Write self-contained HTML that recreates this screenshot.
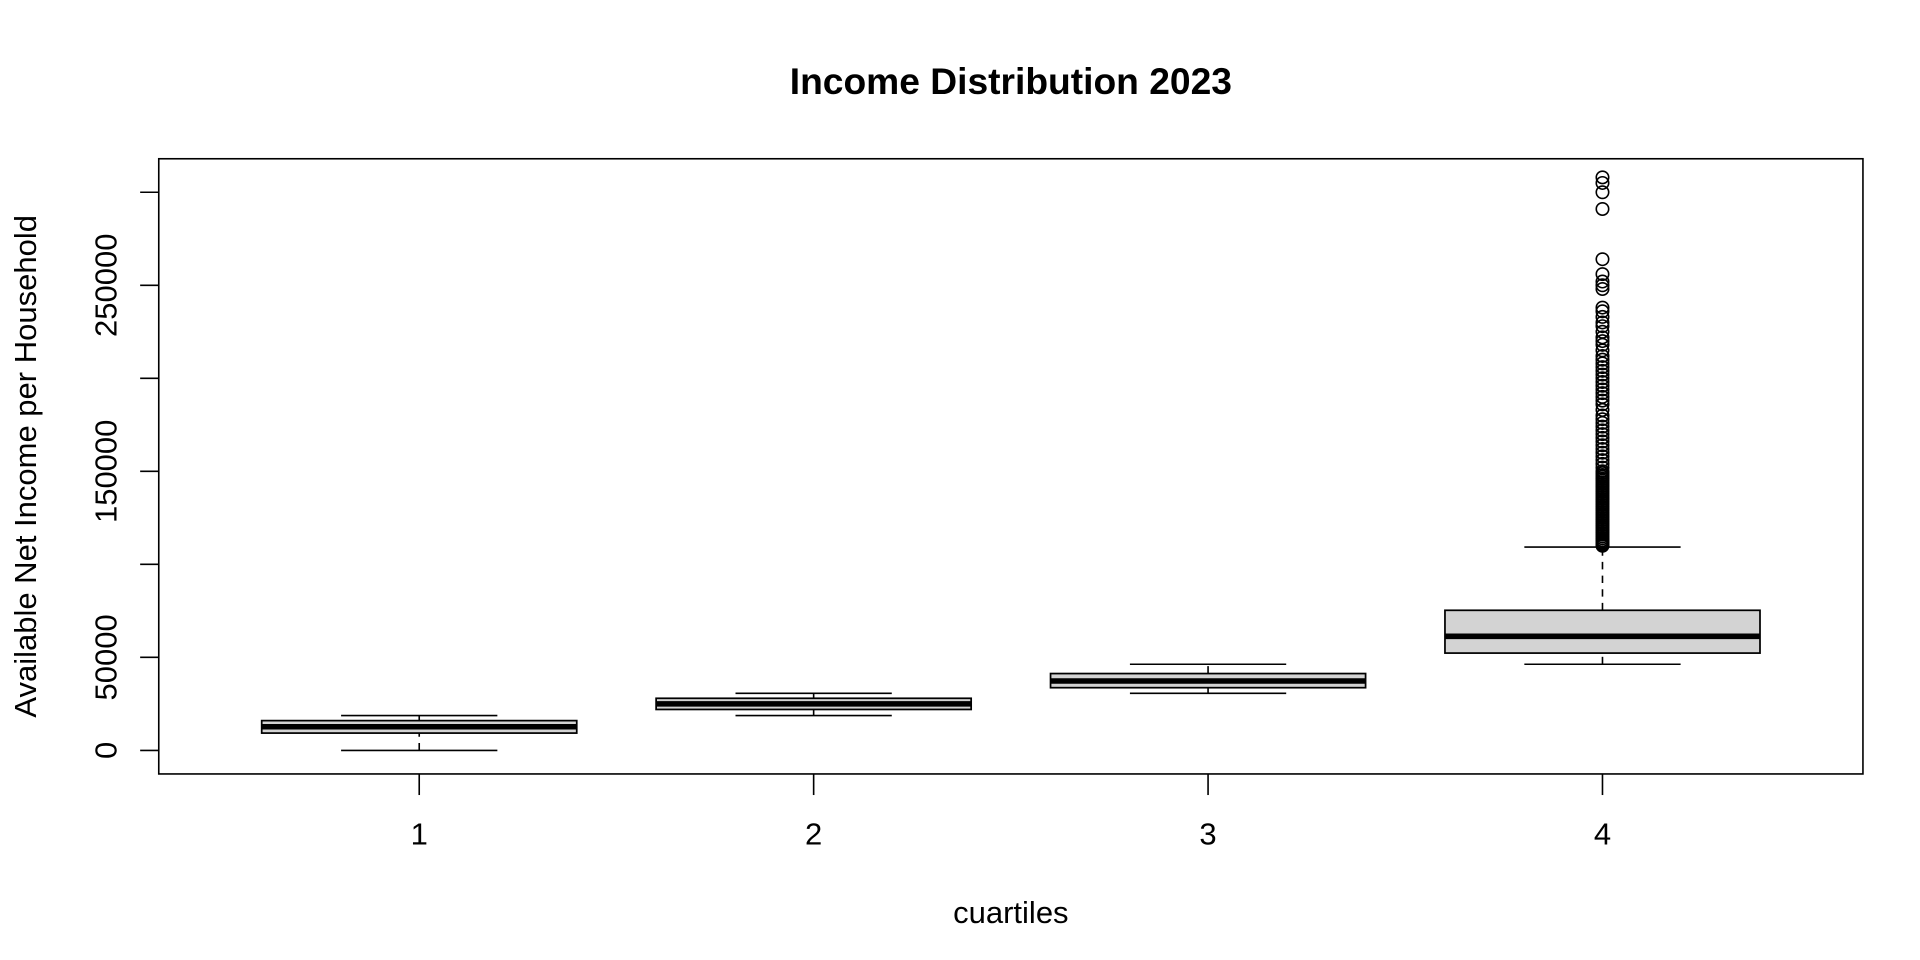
<!DOCTYPE html>
<html><head><meta charset="utf-8"><style>
html,body{margin:0;padding:0;background:#fff;}
svg{display:block;}
text{font-family:"Liberation Sans",Arial,sans-serif;fill:#000;}
</style></head><body>
<svg id="chart" width="1920" height="960" viewBox="0 0 1548 774" preserveAspectRatio="none" xmlns="http://www.w3.org/2000/svg">
<rect x="0" y="0" width="1548" height="774" fill="#fff"/>
<text x="815" y="76" font-size="30" font-weight="bold" text-anchor="middle">Income Distribution 2023</text>
<rect x="128" y="128" width="1374" height="496" fill="none" stroke="#000" stroke-width="1.3"/>
<text x="815" y="744" font-size="25" text-anchor="middle">cuartiles</text>
<text transform="translate(29,376) rotate(-90)" font-size="25" text-anchor="middle">Available Net Income per Household</text>
<g id="marks"></g>
</svg>
<script>
const categories = ["1","2","3","4"];
const whiskerLow = [0, 18700, 30700, 46300];
const q1 = [9300, 22000, 33700, 52300];
const medians = [12700, 25000, 37300, 61300];
const q3 = [16000, 28000, 41300, 75300];
const whiskerHigh = [18700, 30700, 46300, 109300];
const yTicks = [0,50000,100000,150000,200000,250000,300000];
const yTickLabels = ["0","50000","","150000","","250000",""];
const outliers4 = [110000,110500,111000,111500,112000,113000,114000,115000,116000,117000,118000,119000,120000,121000,122000,123000,124000,125000,126000,127000,128000,129000,130000,131000,132000,133000,134000,135000,136000,137000,138000,139000,140000,141000,142000,143000,144000,145000,146000,147000,148000,149000,150000,152000,154000,156000,158000,160000,162000,164000,166000,168000,170000,172000,174000,176000,178000,180000,183000,186000,188000,190000,192000,194000,196000,198000,200000,202000,204000,206000,208000,210000,212000,215000,218000,220000,222000,225000,228000,230000,233000,236000,238000,248000,250000,252000,256000,264000,291000,300000,305000,308000];

const NS="http://www.w3.org/2000/svg";
const g=document.getElementById('marks');
const y=v=>605-v*0.0015;
const x=i=>338+i*318;
function el(tag,attrs){const e=document.createElementNS(NS,tag);for(const k in attrs)e.setAttribute(k,attrs[k]);g.appendChild(e);return e;}
yTicks.forEach((t,i)=>{
  const tk=el('line',{x1:113,x2:128,y1:y(t),y2:y(t),stroke:'#000','stroke-width':1.3});
  
  
  if(yTickLabels[i]){
    const tx=el('text',{transform:`translate(94,${y(t)}) rotate(-90)`,'font-size':25,'text-anchor':'middle'});
    tx.textContent=yTickLabels[i];
    
    
  }
});
const hw=127, cw=63;
categories.forEach((c,i)=>{
  const cx=x(i);
  const tk=el('line',{x1:cx,x2:cx,y1:624,y2:641,stroke:'#000','stroke-width':1.3});
  
  
  const tl=el('text',{x:cx,y:681,'font-size':25,'text-anchor':'middle'});
  tl.textContent=c;
  
  
  const w1=el('line',{x1:cx,x2:cx,y1:y(whiskerLow[i]),y2:y(q1[i]),stroke:'#000','stroke-width':1.3,'stroke-dasharray':'6,5'});
  
  
  const w2=el('line',{x1:cx,x2:cx,y1:y(q3[i]),y2:y(whiskerHigh[i]),stroke:'#000','stroke-width':1.3,'stroke-dasharray':'6,5'});
  
  
  const c1=el('line',{x1:cx-cw,x2:cx+cw,y1:y(whiskerLow[i]),y2:y(whiskerLow[i]),stroke:'#000','stroke-width':1.3});
  
  
  const c2=el('line',{x1:cx-cw,x2:cx+cw,y1:y(whiskerHigh[i]),y2:y(whiskerHigh[i]),stroke:'#000','stroke-width':1.3});
  
  
  const b=el('rect',{x:cx-hw,y:y(q3[i]),width:2*hw,height:y(q1[i])-y(q3[i]),fill:'#d3d3d3',stroke:'#000','stroke-width':1.4});
  
  
  const m=el('line',{x1:cx-hw,x2:cx+hw,y1:y(medians[i]),y2:y(medians[i]),stroke:'#000','stroke-width':4.5});
  
  
});
outliers4.forEach(v=>{
  const o=el('circle',{cx:x(3),cy:y(v),r:5,fill:'none',stroke:'#000','stroke-width':1.3});
  
  
});
</script>
</body></html>
